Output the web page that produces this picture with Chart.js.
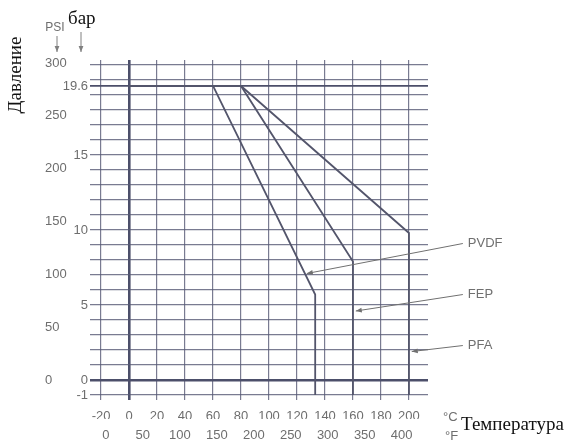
<!DOCTYPE html>
<html>
<head>
<meta charset="utf-8">
<title>Давление / Температура</title>
<script src="https://cdn.jsdelivr.net/npm/chart.js@4.4.1/dist/chart.umd.min.js"></script>
<style>
    html, body { margin: 0; padding: 0; background: #fff; }
    #wrap { width: 576px; height: 441px; }
</style>
</head>
<body>
<div id="wrap"><canvas id="myChart" width="576" height="441"></canvas></div>
<script>
// Кривые: температура (°C) и давление (бар)
const pvdfTemp = [0, 60, 133, 133];
const pvdfBar = [19.6, 19.6, 5.7, -1];
const fepTemp = [0, 80, 160, 160];
const fepBar = [19.6, 19.6, 7.9, -1];
const pfaTemp = [0, 80, 200, 200];
const pfaBar = [19.6, 19.6, 9.8, -1];

// Подписи осей
const tempTicksC = [-20, 0, 20, 40, 60, 80, 100, 120, 140, 160, 180, 200];
const tempTicksF = [0, 50, 100, 150, 200, 250, 300, 350, 400];
const barLabels = [-1, 0, 5, 10, 15, 19.6];
const barGrid = [-1, 0, 1, 2, 3, 4, 5, 6, 7, 8, 9, 10, 11, 12, 13, 14, 15, 16, 17, 18, 19, 19.6, 20, 21];
const psiTicks = [0, 50, 100, 150, 200, 250, 300];

// Выноски: название, конец стрелки и начало подписи (°C, бар)
const materials = ['PVDF', 'FEP', 'PFA'];
const leaderTip = [[127, 7.1], [162, 4.6], [202, 1.9]];
const leaderStart = [[238.5, 9.1], [238.5, 5.7], [238.5, 2.3]];

// Диапазоны шкал, как на скане
const xMin = -27.9, xMax = 213.6;
const yMin = -1.33, yMax = 21.33;
const psiPerBar = 14.2;
const fZeroC = -16.6, fPerC = 1.892;
const toF = c => (c - fZeroC) * fPerC;

const sans = '"Liberation Sans", Arial, sans-serif';
const serif = '"Liberation Serif", "Times New Roman", serif';
const textGray = '#6e6e6e';
const gridColor = 'rgba(88, 90, 118, 0.8)';
const darkLine = '#4c4f6a';
const curveColor = '#53556b';

function pairs(xs, ys) {
    return xs.map((v, i) => ({ x: v, y: ys[i] }));
}

function arrowHead(ctx, x0, y0, x1, y1) {
    const a = Math.atan2(y1 - y0, x1 - x0);
    const len = 6, w = 2.4;
    ctx.beginPath();
    ctx.moveTo(x1, y1);
    ctx.lineTo(x1 - len * Math.cos(a) + w * Math.sin(a), y1 - len * Math.sin(a) - w * Math.cos(a));
    ctx.lineTo(x1 - len * Math.cos(a) - w * Math.sin(a), y1 - len * Math.sin(a) + w * Math.cos(a));
    ctx.closePath();
    ctx.fill();
}

const extras = {
    id: 'extras',
    afterLayout(chart) {
        // подписи бар заходят на колонку PSI (как на скане), не обрезаем их
        chart.scales.y.left = chart.scales.psi.left;
    },
    afterDraw(chart) {
        const ctx = chart.ctx;
        const sx = chart.scales.x, sy = chart.scales.y;
        const area = chart.chartArea;
        ctx.save();

        // выноски с названиями материалов
        ctx.strokeStyle = '#707070';
        ctx.fillStyle = '#707070';
        ctx.lineWidth = 1;
        ctx.font = '13px ' + sans;
        ctx.textAlign = 'left';
        ctx.textBaseline = 'middle';
        materials.forEach((name, i) => {
            const x0 = sx.getPixelForValue(leaderStart[i][0]);
            const y0 = sy.getPixelForValue(leaderStart[i][1]);
            const x1 = sx.getPixelForValue(leaderTip[i][0]);
            const y1 = sy.getPixelForValue(leaderTip[i][1]);
            ctx.beginPath();
            ctx.moveTo(x0, y0);
            ctx.lineTo(x1, y1);
            ctx.stroke();
            arrowHead(ctx, x0, y0, x1, y1);
            ctx.fillText(name, x0 + 5, y0);
        });

        // единицы
        ctx.fillStyle = textGray;
        ctx.font = '12px ' + sans;
        ctx.textAlign = 'center';
        ctx.fillText('PSI', 55, 28);
        ctx.font = '13px ' + sans;
        ctx.textAlign = 'left';
        ctx.fillText('°C', 443, area.bottom + 17);
        ctx.fillText('°F', 445, area.bottom + 36);

        // стрелки к шкалам
        ctx.strokeStyle = '#808080';
        ctx.fillStyle = '#808080';
        [[57, 36], [81, 32]].forEach(([ax, ay]) => {
            ctx.beginPath();
            ctx.moveTo(ax, ay);
            ctx.lineTo(ax, 52);
            ctx.stroke();
            arrowHead(ctx, ax, ay, ax, 52);
        });

        // русские подписи
        ctx.fillStyle = '#111';
        ctx.font = '19px ' + serif;
        ctx.textBaseline = 'alphabetic';
        ctx.textAlign = 'left';
        ctx.fillText('бар', 68, 24);
        ctx.fillText('Температура', 461, 430);
        ctx.translate(21, 75);
        ctx.rotate(-Math.PI / 2);
        ctx.textAlign = 'center';
        ctx.fillText('Давление', 0, 0);
        ctx.restore();
    }
};

function curve(label, xs, ys) {
    return {
        label: label,
        data: pairs(xs, ys),
        showLine: true,
        borderColor: curveColor,
        borderWidth: 1.8,
        pointRadius: 0,
        fill: false,
        tension: 0,
        xAxisID: 'x',
        yAxisID: 'y'
    };
}

const thick = v => v === 0 || v === 19.6;

const ctx = document.getElementById('myChart').getContext('2d');
const myChart = new Chart(ctx, {
    type: 'scatter',
    data: {
        datasets: [
            curve('PVDF', pvdfTemp, pvdfBar),
            curve('FEP', fepTemp, fepBar),
            curve('PFA', pfaTemp, pfaBar)
        ]
    },
    options: {
        responsive: false,
        animation: false,
        layout: { padding: { left: 45, right: 148, top: 60, bottom: 0 } },
        plugins: {
            legend: { display: false },
            tooltip: { enabled: false }
        },
        scales: {
            x: {
                type: 'linear',
                position: 'bottom',
                weight: 0,
                min: xMin,
                max: xMax,
                afterBuildTicks: s => { s.ticks = tempTicksC.map(v => ({ value: v })); },
                afterFit: s => { s.height = 19; },
                ticks: {
                    autoSkip: false,
                    maxRotation: 0,
                    padding: 9,
                    color: textGray,
                    font: { size: 13, family: sans },
                    callback: v => String(v)
                },
                grid: {
                    drawTicks: false,
                    color: c => (c.tick && c.tick.value === 0) ? darkLine : gridColor,
                    lineWidth: c => (c.tick && c.tick.value === 0) ? 2.6 : 1.2
                },
                border: { display: false }
            },
            f: {
                type: 'linear',
                position: 'bottom',
                weight: 1,
                min: toF(xMin),
                max: toF(xMax),
                afterBuildTicks: s => { s.ticks = tempTicksF.map(v => ({ value: v })); },
                afterFit: s => { s.height = 22; },
                ticks: {
                    autoSkip: false,
                    maxRotation: 0,
                    padding: 9,
                    color: textGray,
                    font: { size: 13, family: sans },
                    callback: v => String(v)
                },
                grid: { display: false, drawTicks: false },
                border: { display: false }
            },
            y: {
                type: 'linear',
                position: 'left',
                weight: 0,
                min: yMin,
                max: yMax,
                afterBuildTicks: s => { s.ticks = barGrid.map(v => ({ value: v })); },
                afterFit: s => { s.width = 20; },
                ticks: {
                    autoSkip: false,
                    padding: 2,
                    color: textGray,
                    font: { size: 13, family: sans },
                    callback: v => barLabels.includes(v) ? String(v) : ''
                },
                grid: {
                    drawTicks: false,
                    color: c => (c.tick && thick(c.tick.value)) ? darkLine : gridColor,
                    lineWidth: c => (c.tick && c.tick.value === 0) ? 2.6 : (c.tick && c.tick.value === 19.6 ? 1.8 : 1.2)
                },
                border: { display: false }
            },
            psi: {
                type: 'linear',
                position: 'left',
                weight: 1,
                min: yMin * psiPerBar,
                max: yMax * psiPerBar,
                afterBuildTicks: s => { s.ticks = psiTicks.map(v => ({ value: v })); },
                afterFit: s => { s.width = 25; },
                ticks: {
                    autoSkip: false,
                    crossAlign: 'far',
                    padding: 0,
                    color: textGray,
                    font: { size: 13, family: sans },
                    callback: v => String(v)
                },
                grid: { display: false, drawTicks: false },
                border: { display: false }
            }
        }
    },
    plugins: [extras]
});
</script>
</body>
</html>
